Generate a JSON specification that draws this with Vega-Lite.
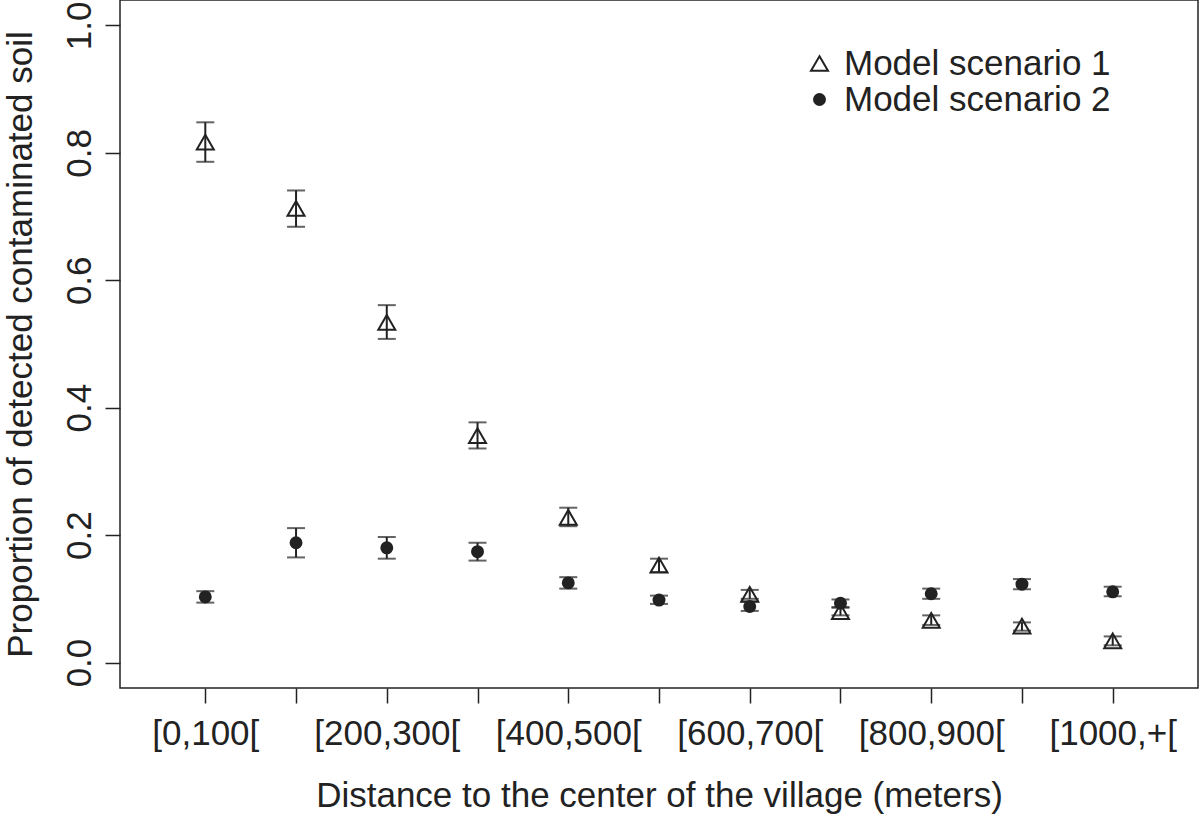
{
  "$schema": "https://vega.github.io/schema/vega-lite/v6.json",
  "width": 1078,
  "height": 688,
  "autosize": {"type": "none"},
  "padding": {"left": 120, "top": 0, "right": 2, "bottom": 129},
  "background": "white",
  "config": {
    "font": "Liberation Sans",
    "view": {"stroke": "#222222", "strokeWidth": 1.5},
    "axis": {
      "domain": false,
      "grid": false,
      "tickColor": "#222222",
      "tickWidth": 1.5,
      "tickSize": 15,
      "labelColor": "#222222",
      "titleColor": "#222222",
      "labelFontSize": 35,
      "titleFontSize": 35,
      "titleFontWeight": "normal",
      "labelFont": "Liberation Sans",
      "titleFont": "Liberation Sans"
    }
  },
  "data": {
    "values": [
      {"x": 1, "scenario": "Model scenario 1", "p": 0.817, "lo": 0.786, "hi": 0.848},
      {"x": 2, "scenario": "Model scenario 1", "p": 0.713, "lo": 0.684, "hi": 0.741},
      {"x": 3, "scenario": "Model scenario 1", "p": 0.534, "lo": 0.508, "hi": 0.561},
      {"x": 4, "scenario": "Model scenario 1", "p": 0.356, "lo": 0.336, "hi": 0.377},
      {"x": 5, "scenario": "Model scenario 1", "p": 0.228, "lo": 0.214, "hi": 0.243},
      {"x": 6, "scenario": "Model scenario 1", "p": 0.153, "lo": 0.142, "hi": 0.163},
      {"x": 7, "scenario": "Model scenario 1", "p": 0.107, "lo": 0.100, "hi": 0.114},
      {"x": 8, "scenario": "Model scenario 1", "p": 0.080, "lo": 0.074, "hi": 0.086},
      {"x": 9, "scenario": "Model scenario 1", "p": 0.066, "lo": 0.059, "hi": 0.074},
      {"x": 10, "scenario": "Model scenario 1", "p": 0.057, "lo": 0.050, "hi": 0.063},
      {"x": 11, "scenario": "Model scenario 1", "p": 0.034, "lo": 0.027, "hi": 0.041},
      {"x": 1, "scenario": "Model scenario 2", "p": 0.103, "lo": 0.094, "hi": 0.112},
      {"x": 2, "scenario": "Model scenario 2", "p": 0.188, "lo": 0.165, "hi": 0.211},
      {"x": 3, "scenario": "Model scenario 2", "p": 0.180, "lo": 0.163, "hi": 0.197},
      {"x": 4, "scenario": "Model scenario 2", "p": 0.174, "lo": 0.160, "hi": 0.188},
      {"x": 5, "scenario": "Model scenario 2", "p": 0.125, "lo": 0.116, "hi": 0.134},
      {"x": 6, "scenario": "Model scenario 2", "p": 0.098, "lo": 0.092, "hi": 0.105},
      {"x": 7, "scenario": "Model scenario 2", "p": 0.088, "lo": 0.081, "hi": 0.096},
      {"x": 8, "scenario": "Model scenario 2", "p": 0.093, "lo": 0.087, "hi": 0.099},
      {"x": 9, "scenario": "Model scenario 2", "p": 0.108, "lo": 0.100, "hi": 0.116},
      {"x": 10, "scenario": "Model scenario 2", "p": 0.123, "lo": 0.115, "hi": 0.131},
      {"x": 11, "scenario": "Model scenario 2", "p": 0.111, "lo": 0.104, "hi": 0.119}
    ]
  },
  "encoding": {
    "x": {
      "field": "x",
      "type": "quantitative",
      "scale": {"domain": [0.06, 11.94], "nice": false, "zero": false},
      "axis": {
        "title": "Distance to the center of the village (meters)",
        "values": [1, 2, 3, 4, 5, 6, 7, 8, 9, 10, 11],
        "labelExpr": "['[0,100[', '', '[200,300[', '', '[400,500[', '', '[600,700[', '', '[800,900[', '', '[1000,+['][datum.value - 1]",
        "labelOverlap": false,
        "labelFlush": false,
        "labelPadding": 13,
        "titlePadding": 27
      }
    }
  },
  "layer": [
    {
      "mark": {"type": "rule", "color": "#222222", "strokeWidth": 2},
      "encoding": {
        "y": {
          "field": "lo",
          "type": "quantitative",
          "scale": {"domain": [-0.04, 1.04], "nice": false, "zero": false},
          "axis": {
            "title": "Proportion of detected contaminated soil",
            "values": [0, 0.2, 0.4, 0.6, 0.8, 1.0],
            "format": ".1f",
            "labelAngle": 270,
            "labelAlign": "center",
            "labelBaseline": "bottom",
            "labelPadding": 8,
            "titlePadding": 24
          }
        },
        "y2": {"field": "hi"}
      }
    },
    {
      "mark": {"type": "tick", "orient": "horizontal", "size": 18, "thickness": 2, "color": "#222222"},
      "encoding": {"y": {"field": "lo", "type": "quantitative"}}
    },
    {
      "mark": {"type": "tick", "orient": "horizontal", "size": 18, "thickness": 2, "color": "#222222"},
      "encoding": {"y": {"field": "hi", "type": "quantitative"}}
    },
    {
      "mark": {"type": "point", "filled": true, "stroke": "#222222", "strokeWidth": 2, "opacity": 1, "fillOpacity": 1, "strokeOpacity": 1},
      "encoding": {
        "y": {"field": "p", "type": "quantitative"},
        "shape": {
          "field": "scenario",
          "type": "nominal",
          "scale": {"domain": ["Model scenario 1", "Model scenario 2"], "range": ["triangle-up", "circle"]},
          "legend": {
            "title": null,
            "orient": "none",
            "legendX": 682,
            "legendY": 46,
            "labelFontSize": 35,
            "labelLimit": 0,
            "labelColor": "#222222",
            "labelFont": "Liberation Sans",
            "symbolStrokeColor": "#222222",
            "symbolStrokeWidth": 2,
            "rowPadding": 0,
            "labelOffset": 7,
            "padding": 0
          }
        },
        "fill": {
          "field": "scenario",
          "type": "nominal",
          "scale": {"domain": ["Model scenario 1", "Model scenario 2"], "range": ["transparent", "#222222"]}
        },
        "size": {
          "field": "scenario",
          "type": "nominal",
          "scale": {"domain": ["Model scenario 1", "Model scenario 2"], "range": [289, 120]}
        }
      }
    }
  ]
}
